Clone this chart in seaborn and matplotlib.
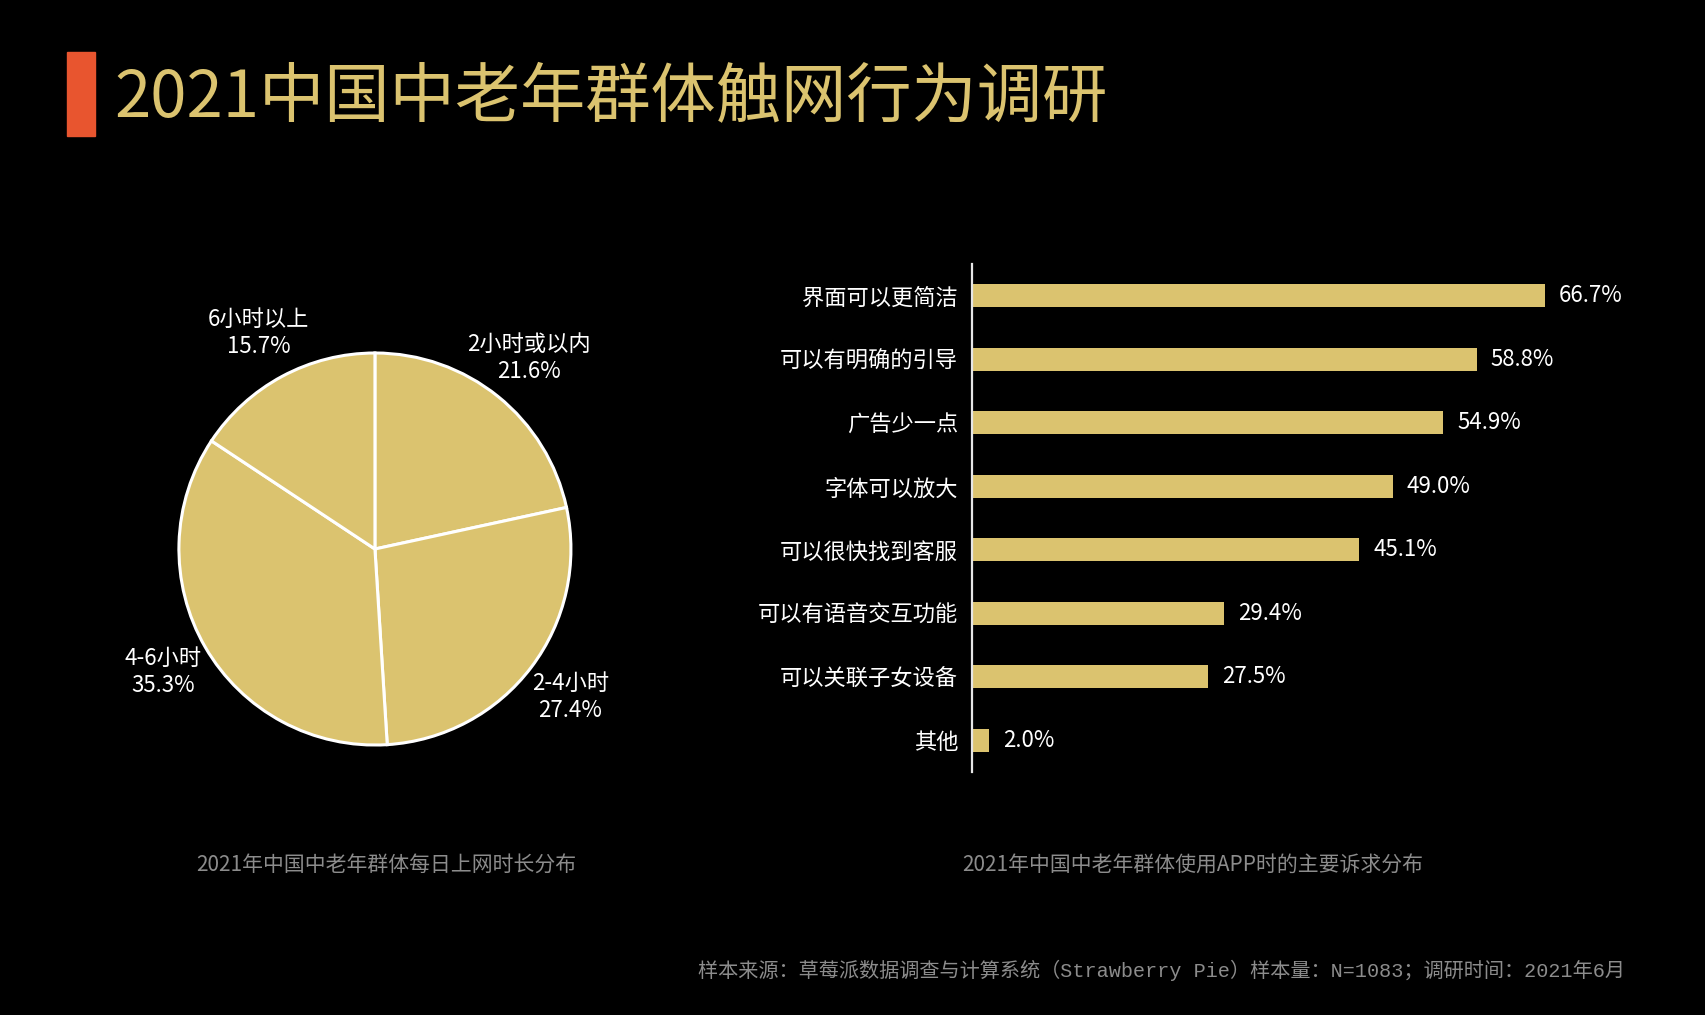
import matplotlib
matplotlib.use("Agg")
import matplotlib.pyplot as plt
from matplotlib.patches import Rectangle
import seaborn as sns

# data
pie_labels = ["2小时或以内", "2-4小时", "4-6小时", "6小时以上"]
pie_values = [21.6, 27.4, 35.3, 15.7]

bar_labels = ["界面可以更简洁", "可以有明确的引导", "广告少一点", "字体可以放大",
              "可以很快找到客服", "可以有语音交互功能", "可以关联子女设备", "其他"]
bar_values = [66.7, 58.8, 54.9, 49.0, 45.1, 29.4, 27.5, 2.0]

title = "2021中国中老年群体触网行为调研"
pie_caption = "2021年中国中老年群体每日上网时长分布"
bar_caption = "2021年中国中老年群体使用APP时的主要诉求分布"
footer = "样本来源：草莓派数据调查与计算系统（Strawberry Pie）样本量：N=1083；调研时间：2021年6月"

gold = "#DBC36F"
grey = "#8C8C8C"

sns.set_style("dark")
plt.rcParams["font.family"] = ["Noto Sans CJK SC", "DejaVu Sans"]

fig = plt.figure(figsize=(17.05, 10.15), dpi=100, facecolor="black")

# accent block + title
fig.patches.append(Rectangle((67 / 1705, 1 - 136 / 1015), 28 / 1705, 84 / 1015,
                             transform=fig.transFigure, color="#E8552F"))
fig.text(114 / 1705, 0.903, title, color=gold, fontsize=47, va="center", ha="left")

# pie: daily online time
ax_pie = fig.add_axes([0.0762, 0.2177, 0.2874, 0.4828])
ax_pie.set_facecolor("black")
ax_pie.pie(pie_values,
           labels=[f"{l}\n{v:.1f}%" for l, v in zip(pie_labels, pie_values)],
           colors=[gold] * len(pie_values),
           startangle=90, counterclock=False,
           labeldistance=1.25,
           wedgeprops=dict(edgecolor="white", linewidth=2.2),
           textprops=dict(color="white", fontsize=16, ha="center", va="center"))
ax_pie.set_xlim(-1.25, 1.25)
ax_pie.set_ylim(-1.25, 1.25)
ax_pie.set_aspect("equal")

# bars: main requests
ax_bar = fig.add_axes([0.5701, 0.2394, 0.4029, 0.5005])
ax_bar.set_facecolor("black")
sns.barplot(x=bar_values, y=bar_labels, orient="h", color=gold, width=0.36,
            saturation=1, linewidth=0, edgecolor=gold, ax=ax_bar)
ax_bar.bar_label(ax_bar.containers[0], labels=[f"{v:.1f}%" for v in bar_values],
                 padding=10, color="white", fontsize=16)
ax_bar.set_xlim(0, 80)
ax_bar.set_ylim(len(bar_labels) - 0.5, -0.5)
ax_bar.set_xticks([])
ax_bar.set_xlabel("")
ax_bar.set_ylabel("")
ax_bar.tick_params(axis="y", length=0, pad=10, labelsize=16, labelcolor="white")
ax_bar.grid(False)
for side in ["top", "right", "bottom"]:
    ax_bar.spines[side].set_visible(False)
ax_bar.spines["left"].set_visible(True)
ax_bar.spines["left"].set_color("#E6E6E6")
ax_bar.spines["left"].set_linewidth(1.6)

# captions
fig.text(386 / 1705, 0.1468, pie_caption, color=grey, fontsize=15, ha="center", va="center")
fig.text(1193 / 1705, 0.1468, bar_caption, color=grey, fontsize=15, ha="center", va="center")
fig.text(1625 / 1705, 0.0443, footer, color=grey, fontsize=14.5, ha="right", va="center",
         family=["Liberation Mono", "Noto Sans CJK SC"])

fig.savefig("out.png", dpi=100, facecolor="black")
